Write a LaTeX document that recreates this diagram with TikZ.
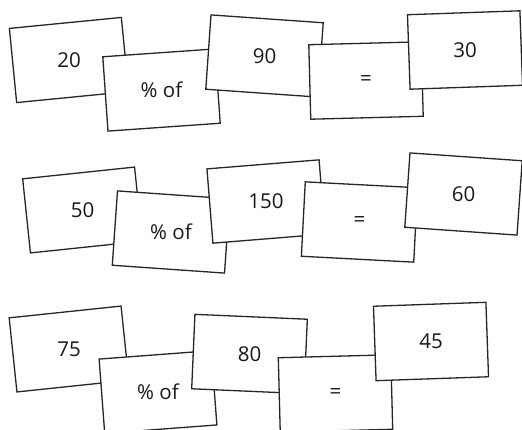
\documentclass[tikz,border=0pt]{standalone}
\usepackage{fontspec}
\setmainfont{Open Sans}
\begin{document}
\begin{tikzpicture}[x=1pt,y=-1pt,
  card/.style={draw=black!85, line width=1.3pt, fill=white,
    minimum width=112.5pt, minimum height=74.5pt, inner sep=0pt},
  lbl/.style={font=\fontsize{20.5}{24}\selectfont, text=black!90, inner sep=0pt}]
\useasboundingbox (0,0) rectangle (522,429);
\clip (0,0) rectangle (522,429);
% row 1
\node[card, rotate=5.6] (a1) at (69,60) {};
\node[lbl] (a1t) at (a1) {20};
\node[card, rotate=4] (a2) at (161.5,90) {};
\node[lbl] (a2t) at (a2) {\% of};
\node[card, rotate=-4] (a3) at (264.5,56) {};
\node[lbl] (a3t) at (a3) {90};
\node[card, rotate=1.5] (a4) at (366,80.5) {};
\node[lbl] (a4t) at (a4) {=};
\node[card, rotate=2] (a5) at (465,50) {};
\node[lbl] (a5t) at (a5) {30};
% row 2
\node[card, rotate=6] (b1) at (82.5,210) {};
\node[lbl] (b1t) at (b1) {50};
\node[card, rotate=-4] (b2) at (171,232) {};
\node[lbl] (b2t) at (b2) {\% of};
\node[card, rotate=4.6] (b3) at (266,201.5) {};
\node[lbl] (b3t) at (b3) {150};
\node[card, rotate=-3] (b4) at (359.5,222) {};
\node[lbl] (b4t) at (b4) {=};
\node[card, rotate=-4] (b5) at (463.5,194) {};
\node[lbl] (b5t) at (b5) {60};
% row 3
\node[card, rotate=6] (c1) at (69,349) {};
\node[lbl] (c1t) at (c1) {75};
\node[card, rotate=4.3] (c2) at (158,392) {};
\node[lbl] (c2t) at (c2) {\% of};
\node[card, rotate=-2.5] (c3) at (249.5,354) {};
\node[lbl] (c3t) at (c3) {80};
\node[card, rotate=1.5] (c4) at (335.5,393.5) {};
\node[lbl] (c4t) at (c4) {=};
\node[card, rotate=2] (c5) at (431,341.5) {};
\node[lbl] (c5t) at (c5) {45};
\end{tikzpicture}
\end{document}
